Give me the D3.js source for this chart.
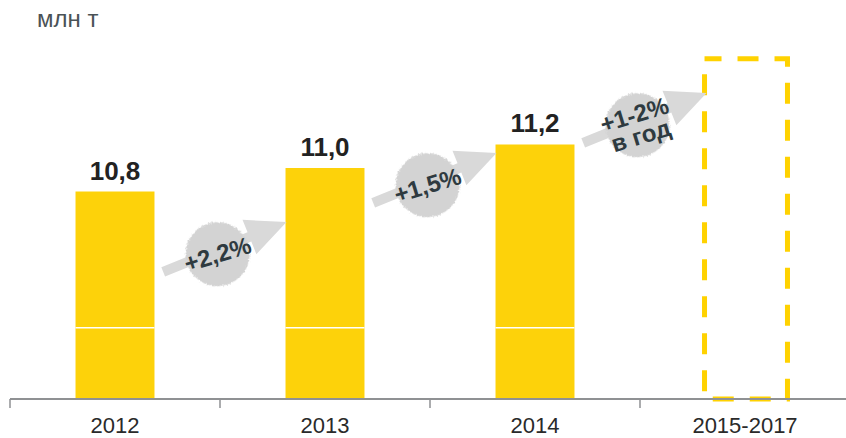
<!DOCTYPE html>
<html>
<head>
<meta charset="utf-8">
<script src="https://cdn.jsdelivr.net/npm/d3@7/dist/d3.min.js"></script>
<style>
  html, body { margin: 0; padding: 0; background: #fff; }
  svg { display: block; font-family: "Liberation Sans", Arial, sans-serif; }
</style>
</head>
<body>
<div class="chart"></div>
<script>
// данные
const years = ["2012", "2013", "2014", "2015-2017"];
const volumes = [10.8, 11.0, 11.2];
const volumeLabels = ["10,8", "11,0", "11,2"];
const forecastTop = 11.93;
const growthLabels = [["+2,2%"], ["+1,5%"], ["+1-2%", "в год"]];
const unitLabel = "млн т";

const width = 846, height = 438;
const baseY = 398;

const svg = d3.select(".chart")
  .append("svg")
  .attr("width", width)
  .attr("height", height)
  .attr("viewBox", [0, 0, width, height]);

// шероховатый круг
const defs = svg.append("defs");
const rough = defs.append("filter").attr("id", "rough")
  .attr("x", "-20%").attr("y", "-20%").attr("width", "140%").attr("height", "140%");
rough.append("feTurbulence").attr("type", "fractalNoise")
  .attr("baseFrequency", 0.8).attr("numOctaves", 2).attr("result", "noise");
rough.append("feDisplacementMap").attr("in", "SourceGraphic").attr("in2", "noise")
  .attr("scale", 4).attr("xChannelSelector", "R").attr("yChannelSelector", "G");

const x = d3.scaleBand().domain(years).range([10, 850]);
const y = d3.scaleLinear().domain([9.043, 11.0]).range([baseY, 168]);
const bw = x.bandwidth();
const barW = bw * 0.376;
const barX = d => x(d) + (bw - barW) / 2;

// подпись единиц
svg.append("text")
  .attr("x", 37).attr("y", 27)
  .attr("font-size", 24)
  .attr("fill", "#4a5256")
  .text(unitLabel);

// столбцы
const bars = svg.append("g").selectAll("g")
  .data(volumes)
  .join("g");

bars.append("rect")
  .attr("x", (d, i) => barX(years[i]))
  .attr("y", d => y(d))
  .attr("width", barW)
  .attr("height", d => baseY - y(d))
  .attr("fill", "#fdd20a");

// белая линия-разрыв
bars.append("line")
  .attr("x1", (d, i) => barX(years[i]))
  .attr("x2", (d, i) => barX(years[i]) + barW)
  .attr("y1", y(9.64)).attr("y2", y(9.64))
  .attr("stroke", "#fff")
  .attr("stroke-width", 1.5);

bars.append("text")
  .attr("x", (d, i) => barX(years[i]) + barW / 2)
  .attr("y", d => y(d) - 12)
  .attr("text-anchor", "middle")
  .attr("font-size", 26)
  .attr("font-weight", "bold")
  .attr("fill", "#222")
  .text((d, i) => volumeLabels[i]);

// прогноз - пунктир
const fx = barX(years[3]);
svg.append("rect")
  .attr("x", fx - 1).attr("y", y(forecastTop))
  .attr("width", barW + 4)
  .attr("height", baseY + 1 - y(forecastTop))
  .attr("fill", "none")
  .attr("stroke", "#ffd200")
  .attr("stroke-width", 5)
  .attr("stroke-dasharray", "21 16")
  .attr("stroke-dashoffset", 4);

// ось
const axis = svg.append("g").attr("transform", `translate(0,${baseY + 1})`);
axis.call(d3.axisBottom(x).tickSize(0))
  .call(g => g.select(".domain").remove())
  .selectAll("text")
  .attr("y", 34).attr("dy", null)
  .attr("font-size", 22)
  .attr("font-family", "Liberation Sans, Arial, sans-serif")
  .attr("fill", "#2a2a2a");
axis.append("line")
  .attr("x1", 10).attr("x2", width)
  .attr("stroke", "#8f9193").attr("stroke-width", 2);
axis.selectAll(".edge")
  .data(years)
  .join("line")
  .attr("class", "edge")
  .attr("x1", d => x(d)).attr("x2", d => x(d))
  .attr("y1", 0).attr("y2", 9)
  .attr("stroke", "#8f9193").attr("stroke-width", 1.5);

// стрелки роста
const arrowTipY = [222, 153, 93];
const angle = -22;
const arrowPath = "M0,0 L-40,-18.5 L-40,-5 L-133,-5 L-133,5 L-40,5 L-40,18.5 Z";

growthLabels.forEach((lines, i) => {
  const tipX = barX(years[i + 1]) + 1;
  const g = svg.append("g")
    .attr("transform", `translate(${tipX},${arrowTipY[i]}) rotate(${angle})`);
  g.append("path").attr("d", arrowPath).attr("fill", "#d9d9d9");
  g.append("circle")
    .attr("cx", -76).attr("cy", 4).attr("r", 32)
    .attr("fill", "#d3d3d3")
    .attr("filter", "url(#rough)");
  const t = g.append("text")
    .attr("transform", "translate(-76,4) rotate(5)")
    .attr("text-anchor", "middle")
    .attr("font-size", 24)
    .attr("font-weight", "bold")
    .attr("fill", "#2e3a40");
  lines.forEach((s, j) => {
    t.append("tspan")
      .attr("x", 0)
      .attr("y", (j - (lines.length - 1) / 2) * 22)
      .attr("dy", "0.35em")
      .text(s);
  });
});
</script>
</body>
</html>
